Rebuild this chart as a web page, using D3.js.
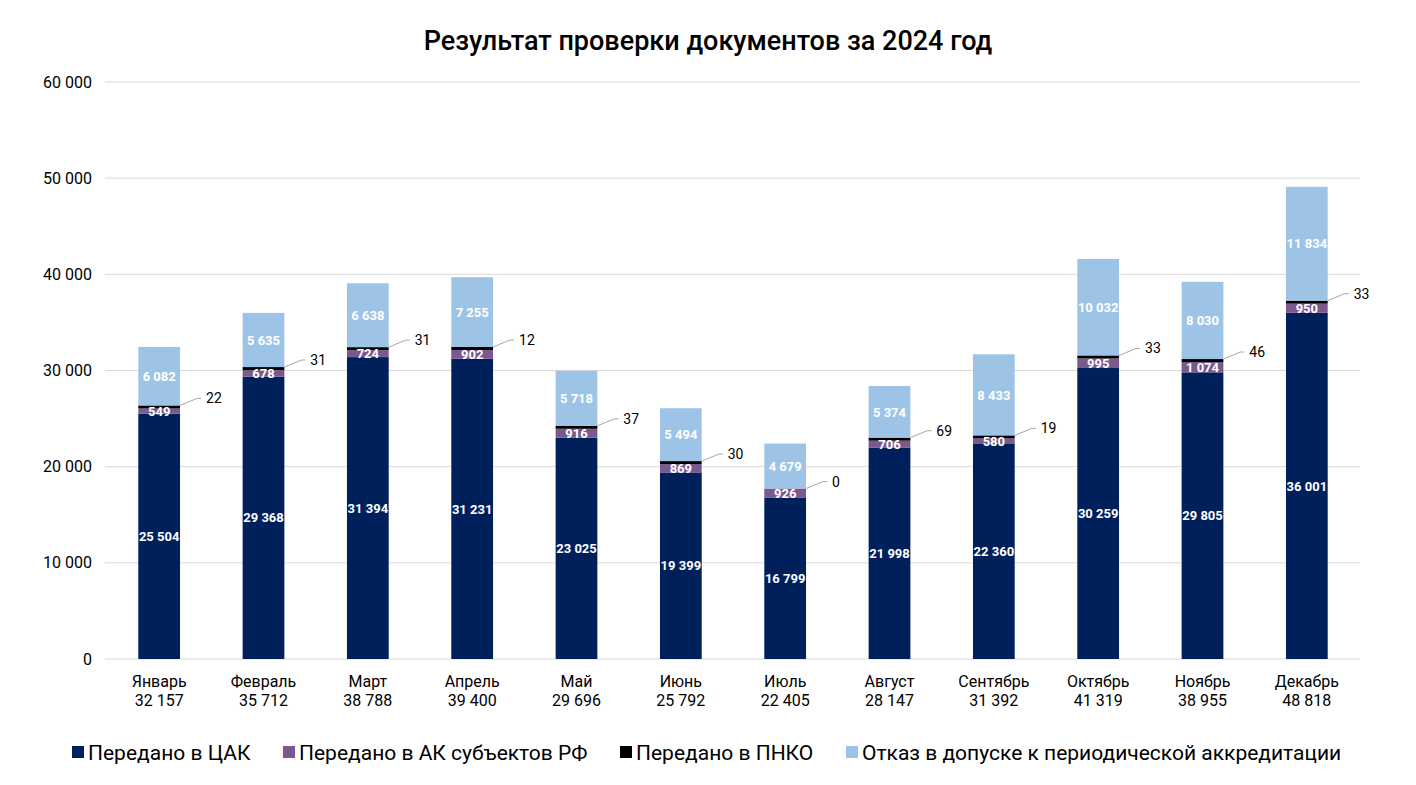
<!DOCTYPE html>
<html><head><meta charset="utf-8">
<script src="https://cdn.jsdelivr.net/npm/d3@7"></script>
<style>
body{margin:0;background:#fff;font-family:Roboto,"Noto Sans",sans-serif;}
</style></head>
<body><svg id="c" width="1416" height="785"></svg>
<script>
const months = ["Январь","Февраль","Март","Апрель","Май","Июнь","Июль","Август","Сентябрь","Октябрь","Ноябрь","Декабрь"];
const totals = ["32 157","35 712","38 788","39 400","29 696","25 792","22 405","28 147","31 392","41 319","38 955","48 818"];
const cak = [25504,29368,31394,31231,23025,19399,16799,21998,22360,30259,29805,36001];
const akRf = [549,678,724,902,916,869,926,706,580,995,1074,950];
const pnko = [22,31,31,12,37,30,0,69,19,33,46,33];
const refusal = [6082,5635,6638,7255,5718,5494,4679,5374,8433,10032,8030,11834];
const seriesNames = ["Передано в ЦАК","Передано в АК субъектов РФ","Передано в ПНКО","Отказ в допуске к периодической аккредитации"];
const colors = ["#00205c","#7a5a8e","#000000","#9dc3e6"];
const yTicks = [0,10000,20000,30000,40000,50000,60000];

const svg = d3.select("#c");
const pLeft=105,pRight=1360,pTop=82,pBottom=659;
const x = d3.scaleBand().domain(months).range([107,1359]).paddingInner(0.6).paddingOuter(0.3);
const y = d3.scaleLinear().domain([0,60000]).range([pBottom,pTop]);
const fmt = v => d3.format(",")(v).replace(/,/g," ");

svg.append("text").attr("x",708).attr("y",50).attr("text-anchor","middle")
  .attr("font-size",27).attr("font-weight",500).attr("fill","#000").text("Результат проверки документов за 2024 год");

svg.append("g").selectAll("line").data(yTicks).join("line")
  .attr("x1",pLeft).attr("x2",pRight).attr("y1",d=>y(d)).attr("y2",d=>y(d))
  .attr("stroke","#d9d9d9").attr("stroke-width",1);
svg.append("g").selectAll("text").data(yTicks).join("text")
  .attr("x",92).attr("y",d=>y(d)).attr("dy","0.35em").attr("text-anchor","end")
  .attr("font-size",16).attr("fill","#000").text(d=>fmt(d));

const data = months.map((m,i)=>({m, vals:[cak[i],akRf[i],pnko[i],refusal[i]]}));
const g = svg.append("g");
data.forEach((d,i)=>{
  const bx = x(d.m), bw = x.bandwidth();
  let acc = 0;
  const segs = [];
  let cur = y(0);
  d.vals.forEach((v,k)=>{
    let h = y(acc) - y(acc+v);
    if(k===2 && v>0 && h<3){ h=3; }
    segs.push({k,v,y0:cur-h,y1:cur});
    cur -= h;
    acc += v;
  });
  segs[3].y0 = Math.min(segs[3].y0, y(acc));
  segs.forEach(s=>{
    if(s.v<=0) return;
    g.append("rect").attr("x",bx).attr("width",bw).attr("y",s.y0).attr("height",s.y1-s.y0).attr("fill",colors[s.k]);
  });
  [0,1,3].forEach(k=>{
    const s = segs[k];
    g.append("text").attr("x",bx+bw/2).attr("y",(s.y0+s.y1)/2).attr("dy","0.36em")
      .attr("text-anchor","middle").attr("font-size",13).attr("font-weight",700).attr("fill","#fff")
      .text(fmt(s.v));
  });
  const py = segs[2].v>0 ? segs[2].y0 : segs[1].y0;
  const sx = bx+bw, ex = sx+17, ey = py-7;
  g.append("path").attr("d",`M${sx},${py}L${ex},${ey}L${ex+4},${ey}`).attr("fill","none").attr("stroke","#a6a6a6").attr("stroke-width",1);
  g.append("text").attr("x",ex+9).attr("y",ey).attr("dy","0.36em").attr("font-size",14).attr("fill","#000").text(fmt(d.vals[2]));
  const t = svg.append("text").attr("x",bx+bw/2).attr("text-anchor","middle").attr("font-size",16).attr("fill","#000");
  t.append("tspan").attr("x",bx+bw/2).attr("y",687).text(d.m);
  t.append("tspan").attr("x",bx+bw/2).attr("y",706).text(totals[i]);
});

const lx = [72,283,620,846];
const lg = svg.append("g");
seriesNames.forEach((n,k)=>{
  lg.append("rect").attr("x",lx[k]).attr("y",746).attr("width",12).attr("height",12).attr("fill",colors[k]);
  lg.append("text").attr("x",lx[k]+16).attr("y",752).attr("dy","0.36em").attr("font-size",21).attr("fill","#000").text(n);
});
</script></body></html>
